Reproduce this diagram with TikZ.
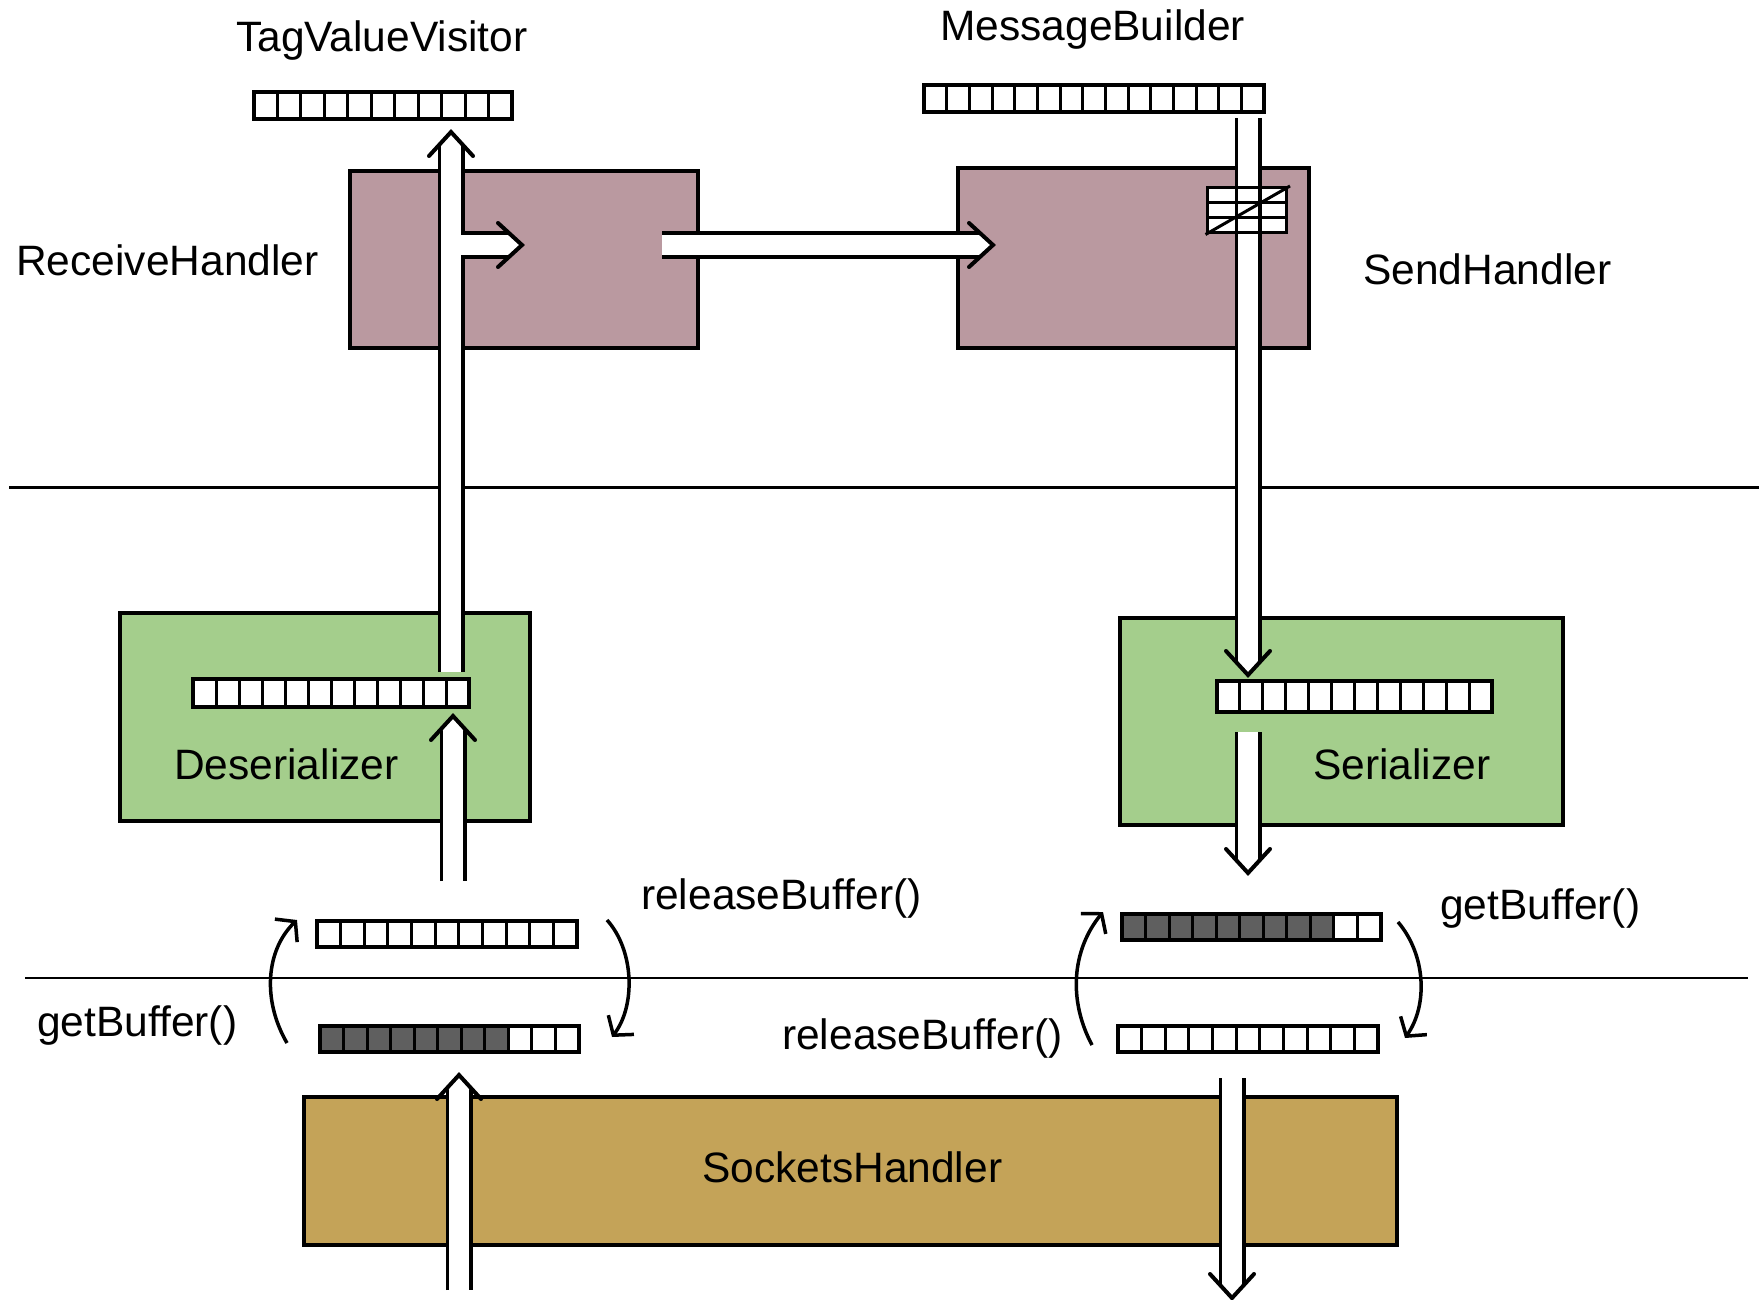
\documentclass[tikz,border=0pt]{standalone}
\usepackage{fontspec}
\setmainfont{Liberation Sans}
\usetikzlibrary{arrows.meta}
\definecolor{mauve}{HTML}{BA99A0}
\definecolor{sketchgreen}{HTML}{A4CE8C}
\definecolor{socktan}{HTML}{C4A358}
\definecolor{darkcell}{HTML}{5F5F5F}
\newcommand\membuf[7]{%
  \fill[white] (#2,#3) rectangle (#4,#5);
  \ifnum#7>0\relax \fill[darkcell] (#2,#3) rectangle ({#2+#7*(#4-#2)/#6},#5);\fi
  \pgfmathtruncatemacro\mbLast{#6-1}%
  \foreach \k in {1,...,\mbLast}{\draw[cellline] ({#2+\k*(#4-#2)/#6},#3) -- ({#2+\k*(#4-#2)/#6},#5);}
  \node[bufnode, minimum width={#4-#2}, minimum height={#5-#3}] (#1) at ({(#2+#4)/2},{(#3+#5)/2}) {};
}
\begin{document}
\begin{tikzpicture}[x=1pt,y=-1pt,
  box/.style={draw=black, line width=4pt, inner sep=0pt, outer sep=0pt},
  lbl/.style={inner sep=0pt, anchor=base west, font=\fontsize{42.5}{50}\selectfont},
  bufnode/.style={draw=black, line width=4pt, inner sep=0pt, outer sep=0pt},
  cellline/.style={line width=3pt},
  pipe/.style={line width=3.5pt, double=white, double distance=20pt},
  headline/.style={line width=4pt, line join=miter, line cap=round},
  headup/.pic={
    \fill[white] (0,1) -- (-12,14) -- (12,14) -- cycle;
    \draw[headline] (-22,24) -- (0,0) -- (22,24);
  },
  sepline/.style={line width=3pt},
  cyc/.style={line width=3.5pt, -{Straight Barb[length=13pt,width=32pt]}}
]
\fill[white] (0,0) rectangle (1759,1300);
\useasboundingbox (0,0) rectangle (1759,1300);

% boxes
\node[box, fill=mauve, minimum width=348, minimum height=177] (rh) at (524,259.5) {};
\node[box, fill=mauve, minimum width=351, minimum height=180] (sh) at (1133.5,258) {};
\node[box, fill=sketchgreen, minimum width=410, minimum height=208] (des) at (325,717) {};
\node[box, fill=sketchgreen, minimum width=443, minimum height=207] (ser) at (1341.5,721.5) {};
\node[box, fill=socktan, minimum width=1093, minimum height=148] (sock) at (850.5,1171) {};

% separators
\coordinate (sepAL) at (9,487);
\coordinate (sepAR) at (1759,487);
\coordinate (sepBL) at (25,978);
\coordinate (sepBR) at (1748,978);
\draw[sepline] (sepAL) -- (sepAR);
\draw[line width=2.5pt] (sepBL) -- (sepBR);

% labels
\node[lbl] (lTVV) at (236,52) {TagValueVisitor};
\node[lbl] (lMB) at (940,41) {MessageBuilder};
\node[lbl] (lRH) at (16,276) {ReceiveHandler};
\node[lbl] (lSH) at (1363,284) {SendHandler};
\node[lbl] (lDes) at (174,779) {Deserializer};
\node[lbl] (lSer) at (1313,779) {Serializer};
\node[lbl] (lRelL) at (641,909) {releaseBuffer()};
\node[lbl] (lGetL) at (37,1036) {getBuffer()};
\node[lbl] (lGetR) at (1440,919) {getBuffer()};
\node[lbl] (lRelR) at (782,1049) {releaseBuffer()};
\node[lbl] (lSock) at (702,1182) {SocketsHandler};

% buffers
\membuf{tvv}{254}{92}{512}{119}{11}{0}
\membuf{mb}{924}{85}{1264}{112}{15}{0}
\membuf{desbuf}{193}{679}{469}{707}{12}{0}
\membuf{serbuf}{1217}{681}{1492}{712}{12}{0}
\membuf{lu}{317}{921}{577}{947}{11}{0}
\membuf{ll}{320}{1026}{579}{1052}{11}{8}
\membuf{ru}{1122}{914}{1381}{940}{11}{9}
\membuf{rl}{1118}{1026}{1378}{1052}{11}{0}

% receive path
\coordinate (rxTop) at (451,132);
\coordinate (rxTopS) at (451,145);
\coordinate (rxBot) at (451,672);
\coordinate (brS) at (461,245);
\coordinate (brE) at (509,245);
\coordinate (brTip) at (522,245);
\draw[pipe] (rxBot) -- (rxTopS);
\draw[pipe] (brS) -- (brE);
\pic at (rxTop) {headup};
\pic[rotate=-90] at (brTip) {headup};

\coordinate (rhOut) at (662,245);
\coordinate (shInE) at (980,245);
\coordinate (shIn) at (993,245);
\draw[pipe] (rhOut) -- (shInE);
\pic[rotate=-90] at (shIn) {headup};

\coordinate (desInS) at (453,881);
\coordinate (desInE) at (453,729);
\coordinate (desIn) at (453,716);
\draw[pipe] (desInS) -- (desInE);
\pic at (desIn) {headup};

\coordinate (sockUpS) at (459,1290);
\coordinate (sockUpE) at (459,1088);
\coordinate (sockUp) at (459,1075);
\draw[pipe] (sockUpS) -- (sockUpE);
\pic at (sockUp) {headup};

% send path
\fill[white] (1207,188) rectangle (1286,233);
\coordinate (txS) at (1248,118);
\coordinate (txE) at (1248,662);
\coordinate (txTip) at (1248,675);
\draw[pipe] (txS) -- (txE);
\pic[rotate=180] at (txTip) {headup};
\node[draw, line width=3pt, minimum width=79, minimum height=45, inner sep=0pt] (hatch) at (1246.5,210.5) {};
\draw[line width=3pt] (1207,203) -- (1286,203) (1207,218) -- (1286,218);
\draw[line width=3pt] (hatch.south west) -- (1290,186);

\coordinate (serOutS) at (1248,732);
\coordinate (serOutE) at (1248,860);
\coordinate (serOut) at (1248,873);
\draw[pipe] (serOutS) -- (serOutE);
\pic[rotate=180] at (serOut) {headup};

\coordinate (sockDnS) at (1232,1078);
\coordinate (sockDnE) at (1232,1285);
\coordinate (sockDn) at (1232,1298);
\draw[pipe] (sockDnS) -- (sockDnE);
\pic[rotate=180] at (sockDn) {headup};

% buffer cycles
\draw[cyc] (287,1043) .. controls (262,1000) and (266,950) .. (297,920);
\draw[cyc] (607,920) .. controls (634,950) and (636,1005) .. (612,1037);
\draw[cyc] (1092,1045) .. controls (1068,1000) and (1072,950) .. (1103,912);
\draw[cyc] (1398,922) .. controls (1426,955) and (1428,1005) .. (1405,1038);
\end{tikzpicture}
\end{document}
